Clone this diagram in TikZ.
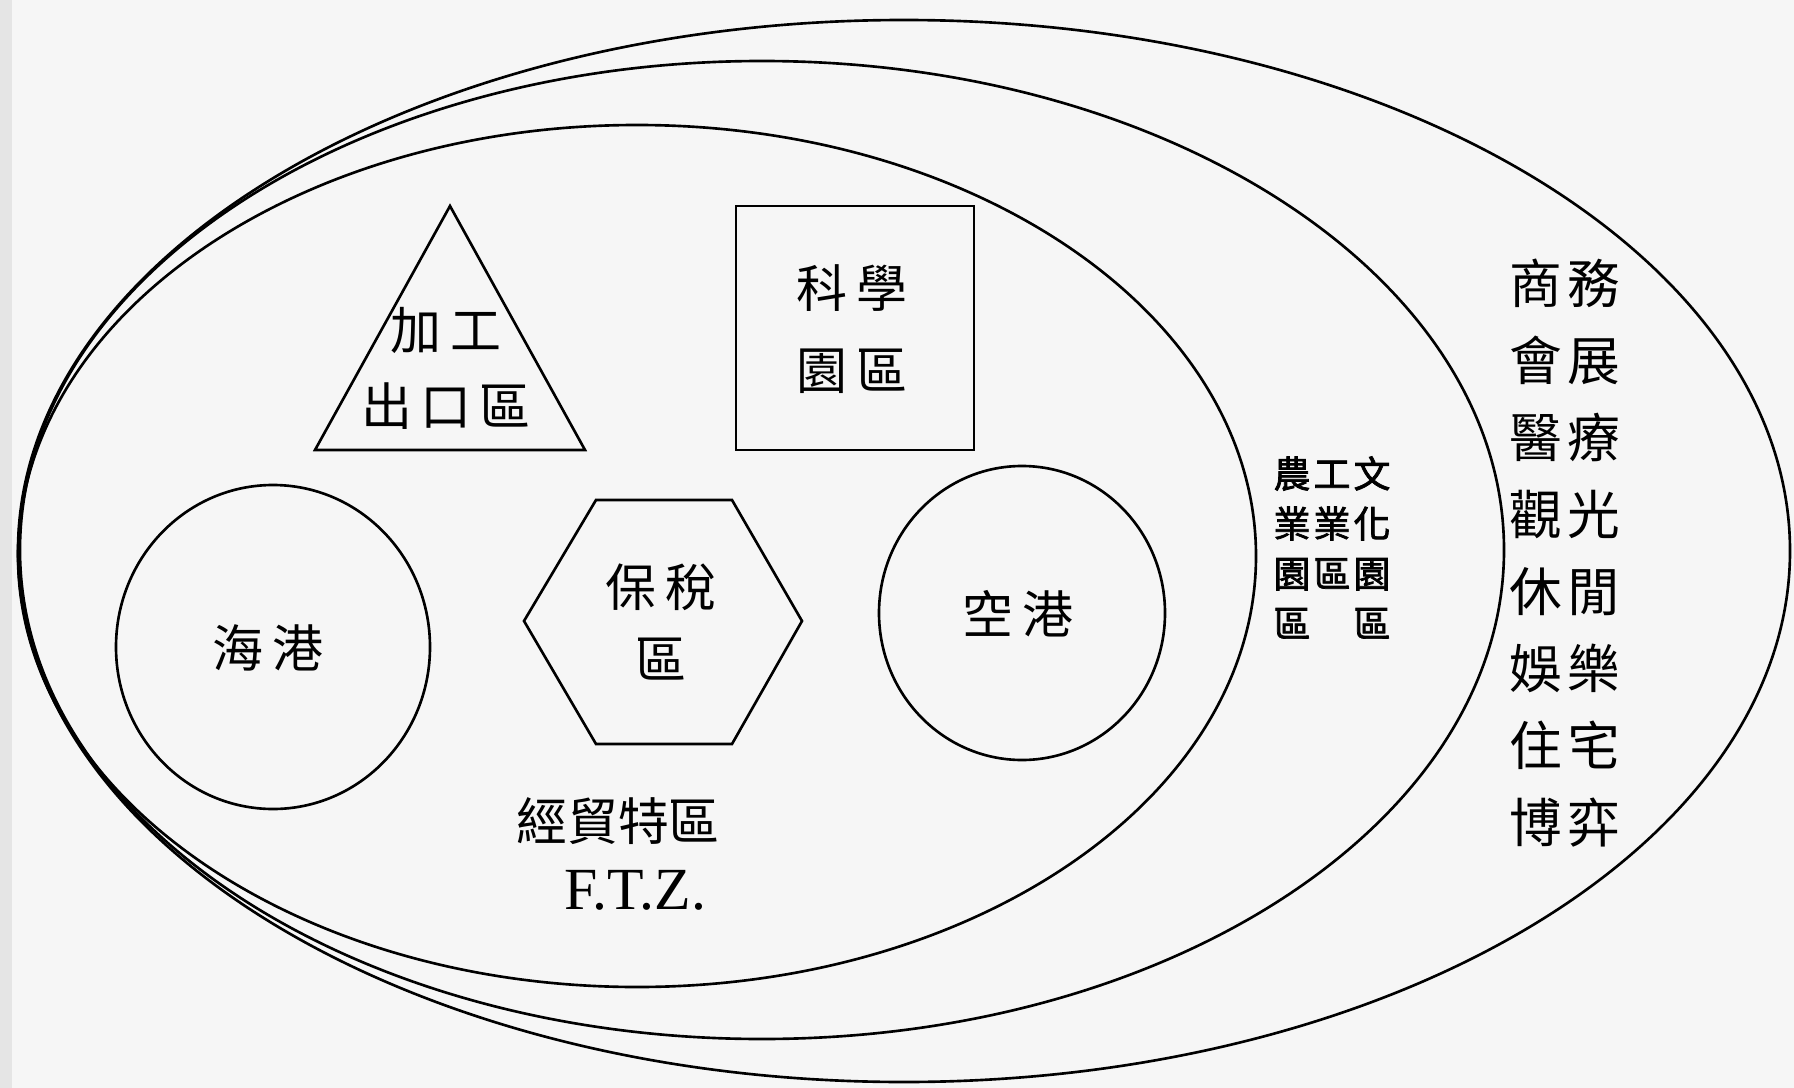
\documentclass[tikz,border=0pt]{standalone}
\usepackage{fontspec}
\setmainfont{Liberation Serif}
\newfontfamily\cjk{Noto Sans CJK TC}
\newfontfamily\cjkb[FakeBold=2]{Noto Sans CJK TC}
\definecolor{paper}{HTML}{F6F6F6}
\begin{document}
\begin{tikzpicture}[x=0.01cm,y=-0.01cm,line width=0.75pt,
  zone/.style={draw=black},
  lbl/.style={font=\cjk\fontsize{14.5pt}{21.6pt}\selectfont,inner sep=0pt,align=center},
  smallcol/.style={font=\cjkb\fontsize{10.5pt}{14.2pt}\selectfont,inner sep=0pt,align=center,anchor=north},
  rightcol/.style={font=\cjk\fontsize{15pt}{21.9pt}\selectfont,inner sep=0pt,align=center},
  latin/.style={font=\fontsize{17pt}{20pt}\selectfont,inner sep=0pt}]
\useasboundingbox (0,0) rectangle (1794,1088);
\fill[paper] (0,0) rectangle (1794,1088);
\fill[black!10] (0,0) rectangle (12,1088);
% ellipses
\draw[zone] (904,551) ellipse [x radius=886, y radius=531];
\draw[zone] (762,550) ellipse [x radius=742, y radius=489];
\draw[zone] (637,556) ellipse [x radius=619, y radius=431];
% inner shapes
\draw[zone] (450,206) -- (585,450) -- (315,450) -- cycle;
\draw[zone] (736,206) rectangle (974,450);
\draw[zone] (273,647) ellipse [x radius=157, y radius=162];
\draw[zone] (596,500) -- (732,500) -- (802,621) -- (732,744) -- (596,744) -- (524,621) -- cycle;
\draw[zone] (1022,613) ellipse [x radius=143, y radius=147];
% labels
\node[lbl] (epz) at (446,368) {加\kern2.3pt工\\出\kern2.3pt口\kern2.3pt區};
\node[lbl,font=\cjk\fontsize{14.5pt}{23.3pt}\selectfont] (sci) at (852,329) {科\kern2.3pt學\\園\kern2.3pt區};
\node[lbl] (sea) at (268,648) {海\kern2.3pt港};
\node[lbl,font=\cjk\fontsize{14.5pt}{20.2pt}\selectfont] (bond) at (661,622) {保\kern2.3pt稅\\區};
\node[lbl] (air) at (1018,614) {空\kern2.3pt港};
\node[lbl] (ftzc) at (618,821) {經貿特區};
\node[latin] (ftz) at (635,890) {F.T.Z.};
% small columns
\node[smallcol] (agri) at (1292,455) {\vphantom{農工文}農\\業\\園\\區};
\node[smallcol] (ind) at (1332,455) {\vphantom{農工文}工\\業\\區};
\node[smallcol] (cult) at (1372,455) {\vphantom{農工文}文\\化\\園\\區};
% right column
\node[rightcol] (svc) at (1565,553) {商\kern1.5pt務\\會\kern1.5pt展\\醫\kern1.5pt療\\觀\kern1.5pt光\\休\kern1.5pt閒\\娛\kern1.5pt樂\\住\kern1.5pt宅\\博\kern1.5pt弈};
\end{tikzpicture}
\end{document}
